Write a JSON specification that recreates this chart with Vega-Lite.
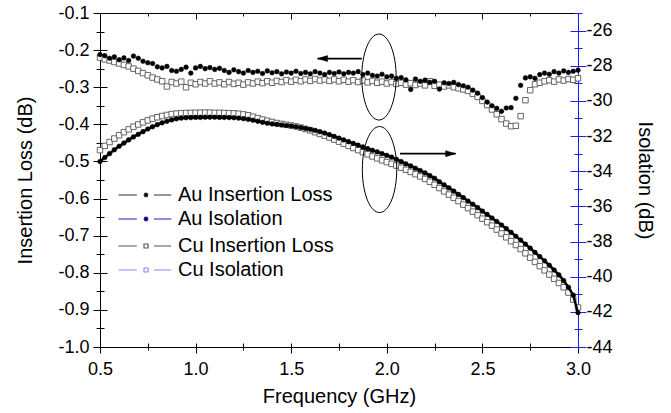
{
"$schema": "https://vega.github.io/schema/vega-lite/v6.json",
"autosize": {"type": "none"},
"padding": {"left": 100, "top": 13, "right": 93, "bottom": 66},
"width": 478,
"height": 334,
"background": "white",
"config": {
  "font": "Liberation Sans",
  "view": {"stroke": "black", "strokeWidth": 1},
  "axis": {"labelFont": "Liberation Sans", "titleFont": "Liberation Sans", "labelFontSize": 18, "titleFontSize": 20, "titleFontWeight": "normal", "labelColor": "black", "titleColor": "black", "grid": false}
},
"datasets": {
"pts": [
{"s":"Cu Insertion Loss","f":0.5,"v":-0.22},{"s":"Cu Insertion Loss","f":0.525,"v":-0.225},{"s":"Cu Insertion Loss","f":0.55,"v":-0.228},{"s":"Cu Insertion Loss","f":0.575,"v":-0.232},{"s":"Cu Insertion Loss","f":0.6,"v":-0.236},{"s":"Cu Insertion Loss","f":0.625,"v":-0.24},{"s":"Cu Insertion Loss","f":0.65,"v":-0.244},{"s":"Cu Insertion Loss","f":0.675,"v":-0.25},{"s":"Cu Insertion Loss","f":0.7,"v":-0.256},{"s":"Cu Insertion Loss","f":0.725,"v":-0.262},
{"s":"Cu Insertion Loss","f":0.75,"v":-0.268},{"s":"Cu Insertion Loss","f":0.775,"v":-0.274},{"s":"Cu Insertion Loss","f":0.8,"v":-0.279},{"s":"Cu Insertion Loss","f":0.825,"v":-0.284},{"s":"Cu Insertion Loss","f":0.85,"v":-0.298},{"s":"Cu Insertion Loss","f":0.875,"v":-0.286},{"s":"Cu Insertion Loss","f":0.9,"v":-0.29},{"s":"Cu Insertion Loss","f":0.925,"v":-0.285},{"s":"Cu Insertion Loss","f":0.95,"v":-0.3},{"s":"Cu Insertion Loss","f":0.975,"v":-0.288},
{"s":"Cu Insertion Loss","f":1.0,"v":-0.292},{"s":"Cu Insertion Loss","f":1.025,"v":-0.286},{"s":"Cu Insertion Loss","f":1.05,"v":-0.29},{"s":"Cu Insertion Loss","f":1.075,"v":-0.284},{"s":"Cu Insertion Loss","f":1.1,"v":-0.29},{"s":"Cu Insertion Loss","f":1.125,"v":-0.287},{"s":"Cu Insertion Loss","f":1.15,"v":-0.292},{"s":"Cu Insertion Loss","f":1.175,"v":-0.286},{"s":"Cu Insertion Loss","f":1.2,"v":-0.291},{"s":"Cu Insertion Loss","f":1.225,"v":-0.288},
{"s":"Cu Insertion Loss","f":1.25,"v":-0.293},{"s":"Cu Insertion Loss","f":1.275,"v":-0.287},{"s":"Cu Insertion Loss","f":1.3,"v":-0.29},{"s":"Cu Insertion Loss","f":1.325,"v":-0.285},{"s":"Cu Insertion Loss","f":1.35,"v":-0.289},{"s":"Cu Insertion Loss","f":1.375,"v":-0.284},{"s":"Cu Insertion Loss","f":1.4,"v":-0.288},{"s":"Cu Insertion Loss","f":1.425,"v":-0.283},{"s":"Cu Insertion Loss","f":1.45,"v":-0.286},{"s":"Cu Insertion Loss","f":1.475,"v":-0.281},
{"s":"Cu Insertion Loss","f":1.5,"v":-0.285},{"s":"Cu Insertion Loss","f":1.525,"v":-0.28},{"s":"Cu Insertion Loss","f":1.55,"v":-0.284},{"s":"Cu Insertion Loss","f":1.575,"v":-0.279},{"s":"Cu Insertion Loss","f":1.6,"v":-0.283},{"s":"Cu Insertion Loss","f":1.625,"v":-0.278},{"s":"Cu Insertion Loss","f":1.65,"v":-0.282},{"s":"Cu Insertion Loss","f":1.675,"v":-0.279},{"s":"Cu Insertion Loss","f":1.7,"v":-0.283},{"s":"Cu Insertion Loss","f":1.725,"v":-0.279},
{"s":"Cu Insertion Loss","f":1.75,"v":-0.284},{"s":"Cu Insertion Loss","f":1.775,"v":-0.28},{"s":"Cu Insertion Loss","f":1.8,"v":-0.285},{"s":"Cu Insertion Loss","f":1.825,"v":-0.281},{"s":"Cu Insertion Loss","f":1.85,"v":-0.286},{"s":"Cu Insertion Loss","f":1.875,"v":-0.282},{"s":"Cu Insertion Loss","f":1.9,"v":-0.287},{"s":"Cu Insertion Loss","f":1.925,"v":-0.283},{"s":"Cu Insertion Loss","f":1.95,"v":-0.288},{"s":"Cu Insertion Loss","f":1.975,"v":-0.285},
{"s":"Cu Insertion Loss","f":2.0,"v":-0.29},{"s":"Cu Insertion Loss","f":2.025,"v":-0.286},{"s":"Cu Insertion Loss","f":2.05,"v":-0.291},{"s":"Cu Insertion Loss","f":2.075,"v":-0.288},{"s":"Cu Insertion Loss","f":2.1,"v":-0.293},{"s":"Cu Insertion Loss","f":2.125,"v":-0.289},{"s":"Cu Insertion Loss","f":2.15,"v":-0.294},{"s":"Cu Insertion Loss","f":2.175,"v":-0.29},{"s":"Cu Insertion Loss","f":2.2,"v":-0.295},{"s":"Cu Insertion Loss","f":2.225,"v":-0.284},
{"s":"Cu Insertion Loss","f":2.25,"v":-0.296},{"s":"Cu Insertion Loss","f":2.275,"v":-0.293},{"s":"Cu Insertion Loss","f":2.3,"v":-0.298},{"s":"Cu Insertion Loss","f":2.325,"v":-0.295},{"s":"Cu Insertion Loss","f":2.35,"v":-0.3},{"s":"Cu Insertion Loss","f":2.375,"v":-0.303},{"s":"Cu Insertion Loss","f":2.4,"v":-0.306},{"s":"Cu Insertion Loss","f":2.425,"v":-0.31},{"s":"Cu Insertion Loss","f":2.45,"v":-0.318},{"s":"Cu Insertion Loss","f":2.475,"v":-0.326},
{"s":"Cu Insertion Loss","f":2.5,"v":-0.337},{"s":"Cu Insertion Loss","f":2.525,"v":-0.348},{"s":"Cu Insertion Loss","f":2.55,"v":-0.36},{"s":"Cu Insertion Loss","f":2.575,"v":-0.373},{"s":"Cu Insertion Loss","f":2.6,"v":-0.386},{"s":"Cu Insertion Loss","f":2.625,"v":-0.398},{"s":"Cu Insertion Loss","f":2.65,"v":-0.405},{"s":"Cu Insertion Loss","f":2.675,"v":-0.404},{"s":"Cu Insertion Loss","f":2.7,"v":-0.378},{"s":"Cu Insertion Loss","f":2.725,"v":-0.335},
{"s":"Cu Insertion Loss","f":2.75,"v":-0.308},{"s":"Cu Insertion Loss","f":2.775,"v":-0.292},{"s":"Cu Insertion Loss","f":2.8,"v":-0.288},{"s":"Cu Insertion Loss","f":2.825,"v":-0.284},{"s":"Cu Insertion Loss","f":2.85,"v":-0.281},{"s":"Cu Insertion Loss","f":2.875,"v":-0.285},{"s":"Cu Insertion Loss","f":2.9,"v":-0.279},{"s":"Cu Insertion Loss","f":2.925,"v":-0.282},{"s":"Cu Insertion Loss","f":2.95,"v":-0.278},{"s":"Cu Insertion Loss","f":2.975,"v":-0.28},
{"s":"Cu Insertion Loss","f":3.0,"v":-0.276},
{"s":"Au Insertion Loss","f":0.5,"v":-0.212},{"s":"Au Insertion Loss","f":0.525,"v":-0.215},{"s":"Au Insertion Loss","f":0.55,"v":-0.222},{"s":"Au Insertion Loss","f":0.575,"v":-0.218},{"s":"Au Insertion Loss","f":0.6,"v":-0.226},{"s":"Au Insertion Loss","f":0.625,"v":-0.221},{"s":"Au Insertion Loss","f":0.65,"v":-0.228},{"s":"Au Insertion Loss","f":0.675,"v":-0.216},{"s":"Au Insertion Loss","f":0.7,"v":-0.222},{"s":"Au Insertion Loss","f":0.725,"v":-0.23},
{"s":"Au Insertion Loss","f":0.75,"v":-0.234},{"s":"Au Insertion Loss","f":0.775,"v":-0.236},{"s":"Au Insertion Loss","f":0.8,"v":-0.245},{"s":"Au Insertion Loss","f":0.825,"v":-0.248},{"s":"Au Insertion Loss","f":0.85,"v":-0.244},{"s":"Au Insertion Loss","f":0.875,"v":-0.255},{"s":"Au Insertion Loss","f":0.9,"v":-0.257},{"s":"Au Insertion Loss","f":0.925,"v":-0.252},{"s":"Au Insertion Loss","f":0.95,"v":-0.246},{"s":"Au Insertion Loss","f":0.975,"v":-0.262},
{"s":"Au Insertion Loss","f":1.0,"v":-0.248},{"s":"Au Insertion Loss","f":1.025,"v":-0.244},{"s":"Au Insertion Loss","f":1.05,"v":-0.25},{"s":"Au Insertion Loss","f":1.075,"v":-0.247},{"s":"Au Insertion Loss","f":1.1,"v":-0.252},{"s":"Au Insertion Loss","f":1.125,"v":-0.249},{"s":"Au Insertion Loss","f":1.15,"v":-0.255},{"s":"Au Insertion Loss","f":1.175,"v":-0.26},{"s":"Au Insertion Loss","f":1.2,"v":-0.253},{"s":"Au Insertion Loss","f":1.225,"v":-0.258},
{"s":"Au Insertion Loss","f":1.25,"v":-0.262},{"s":"Au Insertion Loss","f":1.275,"v":-0.255},{"s":"Au Insertion Loss","f":1.3,"v":-0.26},{"s":"Au Insertion Loss","f":1.325,"v":-0.257},{"s":"Au Insertion Loss","f":1.35,"v":-0.263},{"s":"Au Insertion Loss","f":1.375,"v":-0.256},{"s":"Au Insertion Loss","f":1.4,"v":-0.261},{"s":"Au Insertion Loss","f":1.425,"v":-0.258},{"s":"Au Insertion Loss","f":1.45,"v":-0.264},{"s":"Au Insertion Loss","f":1.475,"v":-0.259},
{"s":"Au Insertion Loss","f":1.5,"v":-0.262},{"s":"Au Insertion Loss","f":1.525,"v":-0.257},{"s":"Au Insertion Loss","f":1.55,"v":-0.263},{"s":"Au Insertion Loss","f":1.575,"v":-0.26},{"s":"Au Insertion Loss","f":1.6,"v":-0.264},{"s":"Au Insertion Loss","f":1.625,"v":-0.258},{"s":"Au Insertion Loss","f":1.65,"v":-0.262},{"s":"Au Insertion Loss","f":1.675,"v":-0.266},{"s":"Au Insertion Loss","f":1.7,"v":-0.26},{"s":"Au Insertion Loss","f":1.725,"v":-0.263},
{"s":"Au Insertion Loss","f":1.75,"v":-0.259},{"s":"Au Insertion Loss","f":1.775,"v":-0.264},{"s":"Au Insertion Loss","f":1.8,"v":-0.26},{"s":"Au Insertion Loss","f":1.825,"v":-0.262},{"s":"Au Insertion Loss","f":1.85,"v":-0.258},{"s":"Au Insertion Loss","f":1.875,"v":-0.266},{"s":"Au Insertion Loss","f":1.9,"v":-0.262},{"s":"Au Insertion Loss","f":1.925,"v":-0.268},{"s":"Au Insertion Loss","f":1.95,"v":-0.27},{"s":"Au Insertion Loss","f":1.975,"v":-0.265},
{"s":"Au Insertion Loss","f":2.0,"v":-0.272},{"s":"Au Insertion Loss","f":2.025,"v":-0.27},{"s":"Au Insertion Loss","f":2.05,"v":-0.276},{"s":"Au Insertion Loss","f":2.075,"v":-0.274},{"s":"Au Insertion Loss","f":2.1,"v":-0.28},{"s":"Au Insertion Loss","f":2.125,"v":-0.306},{"s":"Au Insertion Loss","f":2.15,"v":-0.278},{"s":"Au Insertion Loss","f":2.175,"v":-0.284},{"s":"Au Insertion Loss","f":2.2,"v":-0.281},{"s":"Au Insertion Loss","f":2.225,"v":-0.287},
{"s":"Au Insertion Loss","f":2.25,"v":-0.284},{"s":"Au Insertion Loss","f":2.275,"v":-0.305},{"s":"Au Insertion Loss","f":2.3,"v":-0.288},{"s":"Au Insertion Loss","f":2.325,"v":-0.29},{"s":"Au Insertion Loss","f":2.35,"v":-0.287},{"s":"Au Insertion Loss","f":2.375,"v":-0.293},{"s":"Au Insertion Loss","f":2.4,"v":-0.296},{"s":"Au Insertion Loss","f":2.425,"v":-0.3},{"s":"Au Insertion Loss","f":2.45,"v":-0.308},{"s":"Au Insertion Loss","f":2.475,"v":-0.316},
{"s":"Au Insertion Loss","f":2.5,"v":-0.328},{"s":"Au Insertion Loss","f":2.525,"v":-0.34},{"s":"Au Insertion Loss","f":2.55,"v":-0.35},{"s":"Au Insertion Loss","f":2.575,"v":-0.357},{"s":"Au Insertion Loss","f":2.6,"v":-0.365},{"s":"Au Insertion Loss","f":2.625,"v":-0.356},{"s":"Au Insertion Loss","f":2.65,"v":-0.355},{"s":"Au Insertion Loss","f":2.675,"v":-0.33},{"s":"Au Insertion Loss","f":2.7,"v":-0.295},{"s":"Au Insertion Loss","f":2.725,"v":-0.275},
{"s":"Au Insertion Loss","f":2.75,"v":-0.272},{"s":"Au Insertion Loss","f":2.775,"v":-0.276},{"s":"Au Insertion Loss","f":2.8,"v":-0.266},{"s":"Au Insertion Loss","f":2.825,"v":-0.262},{"s":"Au Insertion Loss","f":2.85,"v":-0.265},{"s":"Au Insertion Loss","f":2.875,"v":-0.258},{"s":"Au Insertion Loss","f":2.9,"v":-0.262},{"s":"Au Insertion Loss","f":2.925,"v":-0.256},{"s":"Au Insertion Loss","f":2.95,"v":-0.26},{"s":"Au Insertion Loss","f":2.975,"v":-0.257},
{"s":"Au Insertion Loss","f":3.0,"v":-0.254},
{"s":"Cu Isolation","f":0.5,"v":-32.8},{"s":"Cu Isolation","f":0.525,"v":-32.56},{"s":"Cu Isolation","f":0.55,"v":-32.34},{"s":"Cu Isolation","f":0.575,"v":-32.14},{"s":"Cu Isolation","f":0.6,"v":-31.95},{"s":"Cu Isolation","f":0.625,"v":-31.78},{"s":"Cu Isolation","f":0.65,"v":-31.62},{"s":"Cu Isolation","f":0.675,"v":-31.47},{"s":"Cu Isolation","f":0.7,"v":-31.34},{"s":"Cu Isolation","f":0.725,"v":-31.22},
{"s":"Cu Isolation","f":0.75,"v":-31.11},{"s":"Cu Isolation","f":0.775,"v":-31.01},{"s":"Cu Isolation","f":0.8,"v":-30.93},{"s":"Cu Isolation","f":0.825,"v":-30.86},{"s":"Cu Isolation","f":0.85,"v":-30.8},{"s":"Cu Isolation","f":0.875,"v":-30.75},{"s":"Cu Isolation","f":0.9,"v":-30.72},{"s":"Cu Isolation","f":0.925,"v":-30.7},{"s":"Cu Isolation","f":0.95,"v":-30.69},{"s":"Cu Isolation","f":0.975,"v":-30.68},
{"s":"Cu Isolation","f":1.0,"v":-30.68},{"s":"Cu Isolation","f":1.025,"v":-30.67},{"s":"Cu Isolation","f":1.05,"v":-30.67},{"s":"Cu Isolation","f":1.075,"v":-30.67},{"s":"Cu Isolation","f":1.1,"v":-30.68},{"s":"Cu Isolation","f":1.125,"v":-30.68},{"s":"Cu Isolation","f":1.15,"v":-30.69},{"s":"Cu Isolation","f":1.175,"v":-30.7},{"s":"Cu Isolation","f":1.2,"v":-30.71},{"s":"Cu Isolation","f":1.225,"v":-30.73},
{"s":"Cu Isolation","f":1.25,"v":-30.77},{"s":"Cu Isolation","f":1.275,"v":-30.82},{"s":"Cu Isolation","f":1.3,"v":-30.9},{"s":"Cu Isolation","f":1.325,"v":-30.98},{"s":"Cu Isolation","f":1.35,"v":-31.06},{"s":"Cu Isolation","f":1.375,"v":-31.13},{"s":"Cu Isolation","f":1.4,"v":-31.2},{"s":"Cu Isolation","f":1.425,"v":-31.26},{"s":"Cu Isolation","f":1.45,"v":-31.31},{"s":"Cu Isolation","f":1.475,"v":-31.36},
{"s":"Cu Isolation","f":1.5,"v":-31.4},{"s":"Cu Isolation","f":1.525,"v":-31.45},{"s":"Cu Isolation","f":1.55,"v":-31.52},{"s":"Cu Isolation","f":1.575,"v":-31.6},{"s":"Cu Isolation","f":1.6,"v":-31.68},{"s":"Cu Isolation","f":1.625,"v":-31.78},{"s":"Cu Isolation","f":1.65,"v":-31.88},{"s":"Cu Isolation","f":1.675,"v":-31.98},{"s":"Cu Isolation","f":1.7,"v":-32.08},{"s":"Cu Isolation","f":1.725,"v":-32.2},
{"s":"Cu Isolation","f":1.75,"v":-32.32},{"s":"Cu Isolation","f":1.775,"v":-32.44},{"s":"Cu Isolation","f":1.8,"v":-32.56},{"s":"Cu Isolation","f":1.825,"v":-32.68},{"s":"Cu Isolation","f":1.85,"v":-32.8},{"s":"Cu Isolation","f":1.875,"v":-32.92},{"s":"Cu Isolation","f":1.9,"v":-33.04},{"s":"Cu Isolation","f":1.925,"v":-33.16},{"s":"Cu Isolation","f":1.95,"v":-33.27},{"s":"Cu Isolation","f":1.975,"v":-33.38},
{"s":"Cu Isolation","f":2.0,"v":-33.48},{"s":"Cu Isolation","f":2.025,"v":-33.58},{"s":"Cu Isolation","f":2.05,"v":-33.68},{"s":"Cu Isolation","f":2.075,"v":-33.8},{"s":"Cu Isolation","f":2.1,"v":-33.92},{"s":"Cu Isolation","f":2.125,"v":-34.04},{"s":"Cu Isolation","f":2.15,"v":-34.17},{"s":"Cu Isolation","f":2.175,"v":-34.3},{"s":"Cu Isolation","f":2.2,"v":-34.44},{"s":"Cu Isolation","f":2.225,"v":-34.6},
{"s":"Cu Isolation","f":2.25,"v":-34.77},{"s":"Cu Isolation","f":2.275,"v":-34.96},{"s":"Cu Isolation","f":2.3,"v":-35.15},{"s":"Cu Isolation","f":2.325,"v":-35.33},{"s":"Cu Isolation","f":2.35,"v":-35.51},{"s":"Cu Isolation","f":2.375,"v":-35.7},{"s":"Cu Isolation","f":2.4,"v":-35.9},{"s":"Cu Isolation","f":2.425,"v":-36.1},{"s":"Cu Isolation","f":2.45,"v":-36.3},{"s":"Cu Isolation","f":2.475,"v":-36.5},
{"s":"Cu Isolation","f":2.5,"v":-36.7},{"s":"Cu Isolation","f":2.525,"v":-36.9},{"s":"Cu Isolation","f":2.55,"v":-37.1},{"s":"Cu Isolation","f":2.575,"v":-37.32},{"s":"Cu Isolation","f":2.6,"v":-37.54},{"s":"Cu Isolation","f":2.625,"v":-37.76},{"s":"Cu Isolation","f":2.65,"v":-37.98},{"s":"Cu Isolation","f":2.675,"v":-38.2},{"s":"Cu Isolation","f":2.7,"v":-38.43},{"s":"Cu Isolation","f":2.725,"v":-38.67},
{"s":"Cu Isolation","f":2.75,"v":-38.92},{"s":"Cu Isolation","f":2.775,"v":-39.16},{"s":"Cu Isolation","f":2.8,"v":-39.4},{"s":"Cu Isolation","f":2.825,"v":-39.64},{"s":"Cu Isolation","f":2.85,"v":-39.88},{"s":"Cu Isolation","f":2.875,"v":-40.12},{"s":"Cu Isolation","f":2.9,"v":-40.36},{"s":"Cu Isolation","f":2.925,"v":-40.6},{"s":"Cu Isolation","f":2.95,"v":-40.9},{"s":"Cu Isolation","f":2.975,"v":-41.3},
{"s":"Cu Isolation","f":3.0,"v":-41.75},
{"s":"Au Isolation","f":0.5,"v":-33.45},{"s":"Au Isolation","f":0.525,"v":-33.22},{"s":"Au Isolation","f":0.55,"v":-33.0},{"s":"Au Isolation","f":0.575,"v":-32.78},{"s":"Au Isolation","f":0.6,"v":-32.58},{"s":"Au Isolation","f":0.625,"v":-32.4},{"s":"Au Isolation","f":0.65,"v":-32.22},{"s":"Au Isolation","f":0.675,"v":-32.05},{"s":"Au Isolation","f":0.7,"v":-31.9},{"s":"Au Isolation","f":0.725,"v":-31.75},
{"s":"Au Isolation","f":0.75,"v":-31.6},{"s":"Au Isolation","f":0.775,"v":-31.47},{"s":"Au Isolation","f":0.8,"v":-31.35},{"s":"Au Isolation","f":0.825,"v":-31.25},{"s":"Au Isolation","f":0.85,"v":-31.16},{"s":"Au Isolation","f":0.875,"v":-31.08},{"s":"Au Isolation","f":0.9,"v":-31.02},{"s":"Au Isolation","f":0.925,"v":-30.98},{"s":"Au Isolation","f":0.95,"v":-30.96},{"s":"Au Isolation","f":0.975,"v":-30.95},
{"s":"Au Isolation","f":1.0,"v":-30.94},{"s":"Au Isolation","f":1.025,"v":-30.94},{"s":"Au Isolation","f":1.05,"v":-30.93},{"s":"Au Isolation","f":1.075,"v":-30.93},{"s":"Au Isolation","f":1.1,"v":-30.93},{"s":"Au Isolation","f":1.125,"v":-30.94},{"s":"Au Isolation","f":1.15,"v":-30.94},{"s":"Au Isolation","f":1.175,"v":-30.95},{"s":"Au Isolation","f":1.2,"v":-30.96},{"s":"Au Isolation","f":1.225,"v":-30.98},
{"s":"Au Isolation","f":1.25,"v":-31.01},{"s":"Au Isolation","f":1.275,"v":-31.05},{"s":"Au Isolation","f":1.3,"v":-31.1},{"s":"Au Isolation","f":1.325,"v":-31.16},{"s":"Au Isolation","f":1.35,"v":-31.22},{"s":"Au Isolation","f":1.375,"v":-31.27},{"s":"Au Isolation","f":1.4,"v":-31.31},{"s":"Au Isolation","f":1.425,"v":-31.34},{"s":"Au Isolation","f":1.45,"v":-31.37},{"s":"Au Isolation","f":1.475,"v":-31.4},
{"s":"Au Isolation","f":1.5,"v":-31.43},{"s":"Au Isolation","f":1.525,"v":-31.47},{"s":"Au Isolation","f":1.55,"v":-31.52},{"s":"Au Isolation","f":1.575,"v":-31.57},{"s":"Au Isolation","f":1.6,"v":-31.62},{"s":"Au Isolation","f":1.625,"v":-31.68},{"s":"Au Isolation","f":1.65,"v":-31.75},{"s":"Au Isolation","f":1.675,"v":-31.83},{"s":"Au Isolation","f":1.7,"v":-31.92},{"s":"Au Isolation","f":1.725,"v":-32.02},
{"s":"Au Isolation","f":1.75,"v":-32.12},{"s":"Au Isolation","f":1.775,"v":-32.22},{"s":"Au Isolation","f":1.8,"v":-32.32},{"s":"Au Isolation","f":1.825,"v":-32.42},{"s":"Au Isolation","f":1.85,"v":-32.52},{"s":"Au Isolation","f":1.875,"v":-32.62},{"s":"Au Isolation","f":1.9,"v":-32.72},{"s":"Au Isolation","f":1.925,"v":-32.81},{"s":"Au Isolation","f":1.95,"v":-32.9},{"s":"Au Isolation","f":1.975,"v":-33.0},
{"s":"Au Isolation","f":2.0,"v":-33.1},{"s":"Au Isolation","f":2.025,"v":-33.2},{"s":"Au Isolation","f":2.05,"v":-33.32},{"s":"Au Isolation","f":2.075,"v":-33.45},{"s":"Au Isolation","f":2.1,"v":-33.58},{"s":"Au Isolation","f":2.125,"v":-33.7},{"s":"Au Isolation","f":2.15,"v":-33.83},{"s":"Au Isolation","f":2.175,"v":-33.96},{"s":"Au Isolation","f":2.2,"v":-34.1},{"s":"Au Isolation","f":2.225,"v":-34.25},
{"s":"Au Isolation","f":2.25,"v":-34.4},{"s":"Au Isolation","f":2.275,"v":-34.6},{"s":"Au Isolation","f":2.3,"v":-34.78},{"s":"Au Isolation","f":2.325,"v":-34.95},{"s":"Au Isolation","f":2.35,"v":-35.13},{"s":"Au Isolation","f":2.375,"v":-35.32},{"s":"Au Isolation","f":2.4,"v":-35.5},{"s":"Au Isolation","f":2.425,"v":-35.7},{"s":"Au Isolation","f":2.45,"v":-35.88},{"s":"Au Isolation","f":2.475,"v":-36.07},
{"s":"Au Isolation","f":2.5,"v":-36.27},{"s":"Au Isolation","f":2.525,"v":-36.46},{"s":"Au Isolation","f":2.55,"v":-36.66},{"s":"Au Isolation","f":2.575,"v":-36.86},{"s":"Au Isolation","f":2.6,"v":-37.06},{"s":"Au Isolation","f":2.625,"v":-37.27},{"s":"Au Isolation","f":2.65,"v":-37.48},{"s":"Au Isolation","f":2.675,"v":-37.7},{"s":"Au Isolation","f":2.7,"v":-37.92},{"s":"Au Isolation","f":2.725,"v":-38.15},
{"s":"Au Isolation","f":2.75,"v":-38.38},{"s":"Au Isolation","f":2.775,"v":-38.62},{"s":"Au Isolation","f":2.8,"v":-38.86},{"s":"Au Isolation","f":2.825,"v":-39.1},{"s":"Au Isolation","f":2.85,"v":-39.35},{"s":"Au Isolation","f":2.875,"v":-39.62},{"s":"Au Isolation","f":2.9,"v":-39.9},{"s":"Au Isolation","f":2.925,"v":-40.22},{"s":"Au Isolation","f":2.95,"v":-40.6},{"s":"Au Isolation","f":2.975,"v":-41.05},
{"s":"Au Isolation","f":3.0,"v":-42.05}
],
"ellipses": [{"f": 1.959, "v": -0.2725}, {"f": 1.962, "v": -0.5218}],
"arrows": [{"f": 1.638, "f2": 1.869, "v": -0.2229}, {"f": 2.069, "f2": 2.36, "v": -0.479}],
"heads": [{"f": 1.638, "v": -0.2229, "dir": "left"}, {"f": 2.36, "v": -0.479, "dir": "right"}]
},
"layer": [
  {
    "layer": [
      {
        "data": {"name": "pts"},
        "transform": [{"filter": "datum.s == 'Cu Insertion Loss'"}],
        "mark": {"type": "point", "shape": "square", "filled": true, "size": 30, "fill": "white", "stroke": "#555555", "strokeWidth": 0.9, "opacity": 1},
        "encoding": {
          "x": {"field": "f", "type": "quantitative", "scale": {"domain": [0.5, 3.0], "nice": false, "zero": false},
            "axis": {"orient": "bottom", "title": "Frequency (GHz)", "values": [0.5, 1.0, 1.5, 2.0, 2.5, 3.0], "format": ".1f",
              "ticks": true, "tickSize": 6, "tickColor": "black", "tickWidth": 1,
              "grid": true, "gridColor": "black", "gridWidth": 1, "gridOpacity": 1, "gridDash": [6, 2000],
              "labelPadding": 7, "titlePadding": 8, "labelOverlap": false, "labelFlush": false, "domain": false}},
          "y": {"field": "v", "type": "quantitative", "scale": {"domain": [-1.0, -0.1], "nice": false, "zero": false},
            "axis": {"orient": "left", "title": "Insertion Loss (dB)",
              "values": [-1.0, -0.8, -0.6, -0.4, -0.2],
              "labelExpr": "replace(format(datum.value,'.1f'),'\u2212','-')",
              "ticks": true, "tickSize": 7, "tickColor": "black", "tickWidth": 1,
              "grid": true, "gridColor": "black", "gridWidth": 1, "gridOpacity": 1, "gridDash": [7, 2000],
              "labelPadding": 4, "titlePadding": 22, "labelOverlap": false, "labelFlush": false, "domain": false}}
        }
      },
      {
        "data": {"name": "pts"},
        "transform": [{"filter": "datum.s == 'Au Insertion Loss'"}],
        "mark": {"type": "point", "shape": "circle", "filled": true, "size": 22, "fill": "black", "stroke": "black", "strokeWidth": 0.5, "opacity": 1},
        "encoding": {
          "x": {"field": "f", "type": "quantitative"},
          "y": {"field": "v", "type": "quantitative"}
        }
      }
    ]
  },
  {
    "layer": [
      {
        "data": {"name": "pts"},
        "transform": [{"filter": "datum.s == 'Cu Isolation'"}],
        "mark": {"type": "point", "shape": "square", "filled": true, "size": 30, "fill": "white", "stroke": "#555555", "strokeWidth": 0.9, "opacity": 1},
        "encoding": {
          "x": {"field": "f", "type": "quantitative",
            "axis": {"orient": "top", "title": null, "labels": false, "domain": false, "ticks": false,
              "grid": true, "gridColor": "black", "gridWidth": 1, "gridOpacity": 1, "gridDash": [4, 2000],
              "values": [0.5, 0.75, 1.0, 1.25, 1.5, 1.75, 2.0, 2.25, 2.5, 2.75, 3.0]}},
          "y": {"field": "v", "type": "quantitative", "scale": {"domain": [-44, -25], "nice": false, "zero": false},
            "axis": {"orient": "right", "title": "Isolation (dB)",
              "values": [-44, -40, -36, -32, -28],
              "labelExpr": "replace(format(datum.value,'d'),'\u2212','-')",
              "ticks": true, "tickSize": 8, "tickColor": "#1a1aff", "tickWidth": 1,
              "grid": true, "gridColor": "#1a1aff", "gridWidth": 1, "gridOpacity": 1, "gridDash": [8, 2000],
              "domainColor": "#1a1aff",
              "labelPadding": 0, "titlePadding": 22, "labelOverlap": false, "labelFlush": false}}
        }
      },
      {
        "data": {"name": "pts"},
        "transform": [{"filter": "datum.s == 'Au Isolation'"}],
        "mark": {"type": "line", "stroke": "black", "strokeWidth": 2.5},
        "encoding": {
          "x": {"field": "f", "type": "quantitative"},
          "y": {"field": "v", "type": "quantitative"}
        }
      },
      {
        "data": {"name": "pts"},
        "transform": [{"filter": "datum.s == 'Au Isolation'"}],
        "mark": {"type": "point", "shape": "circle", "filled": true, "size": 22, "fill": "black", "stroke": "black", "strokeWidth": 0.5, "opacity": 1},
        "encoding": {
          "x": {"field": "f", "type": "quantitative"},
          "y": {"field": "v", "type": "quantitative"}
        }
      }
    ]
  },
  {
    "layer": [
      {
        "data": {"name": "ellipses"},
        "mark": {"type": "point", "shape": "M-0.4,0A0.4,1,0,1,0,0.4,0A0.4,1,0,1,0,-0.4,0Z", "size": 7396, "filled": false, "stroke": "black", "strokeWidth": 1, "opacity": 1},
        "encoding": {
          "x": {"field": "f", "type": "quantitative",
            "axis": {"orient": "bottom", "title": null, "labels": false, "domain": false,
              "ticks": true, "tickSize": 3, "tickColor": "black", "tickWidth": 1,
              "grid": true, "gridColor": "black", "gridWidth": 1, "gridOpacity": 1, "gridDash": [3, 2000],
              "values": [0.75, 1.25, 1.75, 2.25, 2.75]}},
          "y": {"field": "v", "type": "quantitative", "scale": {"domain": [-1.0, -0.1], "nice": false, "zero": false},
            "axis": {"orient": "left", "title": null, "domain": false,
              "values": [-0.9, -0.7, -0.5, -0.3, -0.1],
              "labelExpr": "replace(format(datum.value,'.1f'),'\u2212','-')",
              "ticks": true, "tickSize": 7, "tickColor": "black", "tickWidth": 1,
              "grid": true, "gridColor": "black", "gridWidth": 1, "gridOpacity": 1, "gridDash": [7, 2000],
              "labelPadding": 4, "labelOverlap": false, "labelFlush": false}}
        }
      },
      {
        "data": {"name": "arrows"},
        "mark": {"type": "rule", "stroke": "black", "strokeWidth": 1.6},
        "encoding": {
          "x": {"field": "f", "type": "quantitative"},
          "x2": {"field": "f2"},
          "y": {"field": "v", "type": "quantitative"}
        }
      },
      {
        "data": {"name": "heads"},
        "mark": {"type": "point", "filled": true, "size": 100, "fill": "black", "stroke": "black", "strokeWidth": 0.5, "opacity": 1},
        "encoding": {
          "x": {"field": "f", "type": "quantitative"},
          "y": {"field": "v", "type": "quantitative"},
          "shape": {"field": "dir", "type": "nominal", "scale": {"domain": ["left", "right"], "range": ["M0,0L2,-0.6L2,0.6Z", "M0,0L-2,-0.6L-2,0.6Z"]}, "legend": null}
        }
      }
    ]
  },
  {
    "layer": [
      {
        "data": {"name": "pts"},
        "transform": [{"filter": "datum.f == 0.5 && indexof(datum.s,'Au')==0"}],
        "mark": {"type": "point", "filled": true, "fill": "black", "opacity": 0},
        "encoding": {
          "x": {"field": "f", "type": "quantitative", "axis": null},
          "y": {"field": "v", "type": "quantitative", "scale": {"domain": [-44, -25], "nice": false, "zero": false},
            "axis": {"orient": "right", "title": null, "domain": false,
              "values": [-42, -38, -34, -30, -26],
              "labelExpr": "replace(format(datum.value,'d'),'\u2212','-')",
              "ticks": true, "tickSize": 8, "tickColor": "#1a1aff", "tickWidth": 1,
              "grid": true, "gridColor": "#1a1aff", "gridWidth": 1, "gridOpacity": 1, "gridDash": [8, 2000],
              "labelPadding": 0, "labelOverlap": false, "labelFlush": false}},
          "stroke": {"field": "s", "type": "nominal",
            "scale": {"domain": ["Au Insertion Loss", "Au Isolation"], "range": ["#333333", "#1c1cc8"]},
            "legend": {"orient": "none", "legendX": 36, "legendY": 172, "title": null, "padding": 0,
              "labelFont": "Liberation Sans", "labelFontSize": 20, "labelColor": "black",
              "symbolType": "M-6.9,0L-2.3,0M2,0L6.3,0M-0.45,0A0.45,0.45,0,1,0,0.45,0A0.45,0.45,0,1,0,-0.45,0Z",
              "symbolSize": 64, "labelOffset": 22, "rowPadding": 4, "symbolStrokeWidth": 1.2, "symbolOpacity": 1, "symbolFillColor": "black"}}
        }
      },
      {
        "data": {"name": "pts"},
        "transform": [{"filter": "datum.f == 0.5 && indexof(datum.s,'Cu')==0"}],
        "mark": {"type": "point", "filled": false, "opacity": 0},
        "encoding": {
          "x": {"field": "f", "type": "quantitative"},
          "y": {"field": "v", "type": "quantitative"},
          "color": {"field": "s", "type": "nominal",
            "scale": {"domain": ["Cu Insertion Loss", "Cu Isolation"], "range": ["#555555", "#8a8af0"]},
            "legend": {"orient": "none", "legendX": 36, "legendY": 223, "title": null, "padding": 0,
              "labelFont": "Liberation Sans", "labelFontSize": 20, "labelColor": "black",
              "symbolType": "M-6.9,0L-2.3,0M2,0L6.3,0M-0.5,-0.5L0.5,-0.5L0.5,0.5L-0.5,0.5Z",
              "symbolSize": 64, "labelOffset": 22, "rowPadding": 4, "symbolStrokeWidth": 1.2, "symbolOpacity": 1, "symbolFillColor": "white"}}
        }
      }
    ]
  },
  {
    "data": {"name": "pts"},
    "transform": [{"filter": "datum.f == 0.5 && datum.s == 'Au Insertion Loss'"}],
    "mark": {"type": "point", "opacity": 0},
    "encoding": {
      "x": {"field": "f", "type": "quantitative", "axis": null},
      "y": {"field": "v", "type": "quantitative", "scale": {"domain": [-1.0, -0.1], "nice": false, "zero": false},
        "axis": {"orient": "left", "title": null, "labels": false, "domain": false,
          "ticks": true, "tickSize": 4, "tickColor": "black", "tickWidth": 1,
          "grid": true, "gridColor": "black", "gridWidth": 1, "gridOpacity": 1, "gridDash": [4, 2000],
          "values": [-0.95, -0.85, -0.75, -0.65, -0.55, -0.45, -0.35, -0.25, -0.15]}}
    }
  },
  {
    "data": {"name": "pts"},
    "transform": [{"filter": "datum.f == 0.5 && datum.s == 'Au Isolation'"}],
    "mark": {"type": "point", "opacity": 0},
    "encoding": {
      "x": {"field": "f", "type": "quantitative", "axis": null},
      "y": {"field": "v", "type": "quantitative", "scale": {"domain": [-44, -25], "nice": false, "zero": false},
        "axis": {"orient": "right", "title": null, "labels": false, "domain": false,
          "ticks": true, "tickSize": 4, "tickColor": "#1a1aff", "tickWidth": 1,
          "grid": true, "gridColor": "#1a1aff", "gridWidth": 1, "gridOpacity": 1, "gridDash": [4, 2000],
          "values": [-43, -41, -39, -37, -35, -33, -31, -29, -27, -25]}}
    }
  }
],
"resolve": {"scale": {"y": "independent"}, "axis": {"x": "independent"}}
}
